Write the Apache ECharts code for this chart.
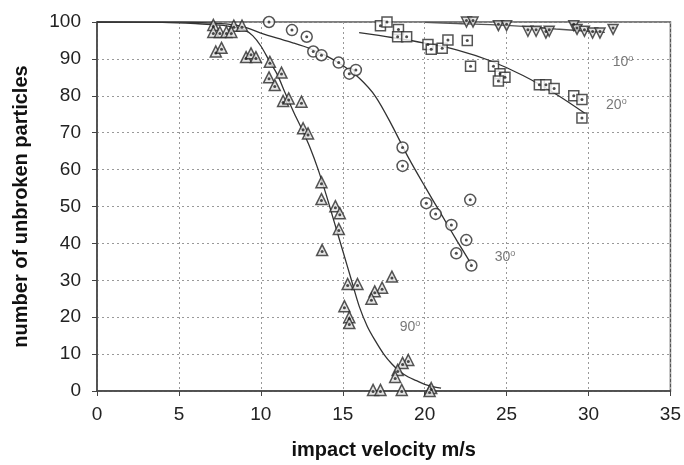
<!DOCTYPE html>
<html><head><meta charset="utf-8">
<script src="https://cdn.jsdelivr.net/npm/echarts@6/dist/echarts.min.js"></script>
<style>html,body{margin:0;padding:0;background:#fff}#c{width:684px;height:465px}</style>
</head><body><div id="c"></div>
<script>
// ---- axes ----
const xMin = 0, xMax = 35, xStep = 5;
const yMin = 0, yMax = 100, yStep = 10;
const xTitle = 'impact velocity m/s';
const yTitle = 'number of unbroken particles';

// ---- measured points [velocity, unbroken] ----
const pts90 = [
  [7.1,99.2],[8.35,99],[8.85,99],[7.1,97.3],[7.5,97.3],[7.9,97.3],[8.2,97.3],
  [7.25,92],[7.6,93],[9.1,90.5],[9.4,91.5],[9.7,90.5],
  [10.55,89.2],[11.26,86.3],[10.5,85],[10.85,82.9],[11.36,78.6],[11.7,79.3],[12.48,78.4],
  [12.58,71.2],[12.88,69.8],
  [13.7,56.6],[13.7,52],[14.55,50.1],[14.82,48.2],[14.76,43.9],[13.74,38.2],
  [15.3,29],[15.9,29],[18.0,31],[17.4,28],[16.95,27],[16.75,25],[15.1,23],[15.4,20],[15.4,18.4],
  [16.85,0.3],[17.3,0.3],[18.6,0.3],[19.0,8.4],[18.65,7.6],[18.35,5.7],[18.2,3.8],[20.4,0.8],[20.3,0]
];
const pts30 = [
  [10.5,100],[11.9,97.8],[12.8,96],[13.2,92],[13.7,91],[14.75,89],[15.4,86],[15.8,87],
  [18.65,66],[18.65,61],[20.1,50.9],[20.67,48],[21.63,45],[22.78,51.8],[22.54,40.9],[21.93,37.3],[22.85,34]
];
const pts20 = [
  [17.3,99],[17.7,100],[18.4,98],[18.35,96],[18.9,96],[20.2,93.9],[20.4,92.6],[21.07,92.9],
  [21.42,95.1],[22.6,95],[22.8,88],[24.2,88],[24.6,86],[24.9,85],[24.5,84],
  [27.0,83],[27.4,83],[27.9,82],[29.1,80],[29.6,79],[29.6,74]
];
const pts10 = [
  [22.55,100],[22.95,100],[24.5,99],[25.0,99],[26.3,97.5],[26.8,97.5],[27.4,97],[27.6,97.5],
  [29.1,99],[29.3,98],[29.75,97.5],[30.25,97],[30.7,97],[31.5,98]
];

// ---- fitted curves ----
const fit90 = [
  [0,100],[4,99.9],[6,99.6],[7,99.3],[8,98.9],[9,97.8],[9.5,96.3],[10,93.5],[10.5,89.6],[11,85.8],
  [11.5,80.6],[12,75.6],[12.5,71],[13,66],[13.5,60],[14,53],[14.5,45.5],[15,38],[15.5,30.5],[16,23],
  [16.5,17.5],[17,13.5],[17.5,10],[18,7.3],[18.5,5.2],[19,3.8],[19.5,2.8],[20,1.8],[20.5,1.2],[21,0.8]
];
const fit30 = [
  [0,100],[5,99.95],[7,99.7],[8,99.4],[9,98.6],[10,97],[11,95.6],[12,94.3],[13,92.8],[14,90.8],
  [15,88.2],[16,84.8],[17,79.8],[18,72],[19,63.3],[20,55.5],[21,48],[22,40.5],[22.9,34]
];
const fit20 = [
  [16,97.1],[18,95.8],[20,94.3],[22,92.4],[24,89.5],[26,85.5],[28,80.5],[29.8,75.2]
];
const fit10 = [
  [20,99.9],[22,99.6],[24,99.3],[26,98.8],[28,98.1],[31,97.2]
];

// ---- angle annotations ----
const angleNames = ['90','30','20','10'];
const angleAt = [[19.1,17.3],[24.9,36.3],[31.7,77.5],[32.1,89]];

const FONT = '"Liberation Sans", Arial, sans-serif';
const INK = '#2a2a2a';

function markers(data, symbol, fill, size, rot) {
  return {
    type: 'scatter', data, symbol, symbolSize: size, symbolRotate: rot || 0, z: 4,
    itemStyle: { color: fill, borderColor: INK, borderWidth: 1.5 }, silent: true
  };
}
function dots(data, offY) {
  return {
    type: 'scatter', data, symbol: 'circle', symbolSize: 3, symbolOffset: [0, offY || 0], z: 5,
    itemStyle: { color: '#222' }, silent: true
  };
}
function curve(data, color) {
  return {
    type: 'line', data, showSymbol: false, smooth: 0.3, z: 3, silent: true,
    lineStyle: { color: color || '#333', width: 1.3 }
  };
}

const annot = {
  type: 'scatter', data: angleAt.map((p, i) => ({ value: p, name: angleNames[i] })),
  symbolSize: 0, z: 6, silent: true,
  label: {
    show: true, position: 'inside',
    formatter: p => p.name + '{s|o}',
    color: '#555', fontSize: 14, fontFamily: FONT,
    rich: { s: { fontSize: 9, color: '#555', verticalAlign: 'top', padding: [0,0,8,0], fontFamily: FONT } }
  }
};

const chart = echarts.init(document.getElementById('c'), null, { renderer: 'canvas' });
chart.setOption({
  animation: false,
  backgroundColor: '#fff',
  grid: { left: 97, right: 12, top: 22, bottom: 74, show: true, borderColor: '#555', borderWidth: 1.5 },
  xAxis: {
    type: 'value', min: xMin, max: xMax, interval: xStep,
    name: xTitle, nameLocation: 'middle', nameGap: 49,
    nameTextStyle: { fontFamily: FONT, fontSize: 20, fontWeight: 'bold', color: '#111' },
    axisLine: { onZero: false, lineStyle: { color: '#444', width: 1.5 } },
    axisTick: { show: true, inside: false, length: 5, lineStyle: { color: '#444' } },
    axisLabel: { fontFamily: FONT, fontSize: 19, color: '#222', margin: 14 },
    splitLine: { show: true, lineStyle: { color: '#999', type: [2, 3], width: 1 } }
  },
  yAxis: {
    type: 'value', min: yMin, max: yMax, interval: yStep,
    name: yTitle, nameLocation: 'middle', nameGap: 66, nameRotate: 90,
    nameTextStyle: { fontFamily: FONT, fontSize: 20, fontWeight: 'bold', color: '#111' },
    axisLine: { show: true, lineStyle: { color: '#444', width: 1.5 } },
    axisTick: { show: true, inside: false, length: 5, lineStyle: { color: '#444' } },
    axisLabel: { fontFamily: FONT, fontSize: 19, color: '#222', margin: 16 },
    splitLine: { show: true, lineStyle: { color: '#999', type: [2, 3], width: 1 } }
  },
  series: [
    curve(fit90), curve(fit30), curve(fit20), curve(fit10, '#555'),
    markers(pts90, 'triangle', '#e0e0e0', 11),
    dots(pts90, 1.5),
    markers(pts30, 'circle', '#fff', 11),
    dots(pts30),
    markers(pts20, 'rect', '#fff', 10),
    dots(pts20),
    markers(pts10, 'triangle', '#e0e0e0', 10, 180),
    dots(pts10, -1.5),
    annot
  ]
});
</script>
</body></html>
